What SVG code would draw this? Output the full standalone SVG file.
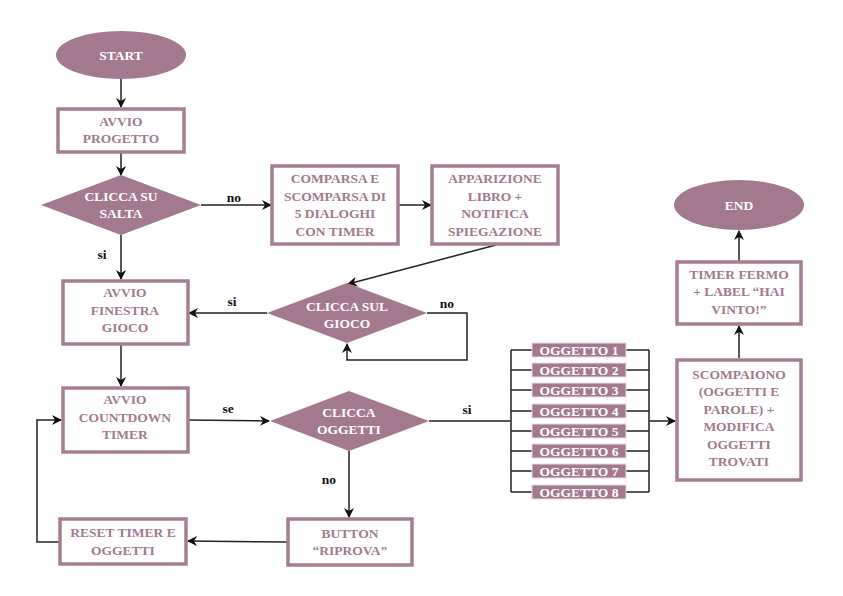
<svg xmlns="http://www.w3.org/2000/svg" width="843" height="596" viewBox="0 0 843 596">
<style>
.bg{fill:#fff}
.box{fill:#fff;stroke:#a67d93;stroke-width:3.5}
.sh{fill:#a3798e}
text{font-family:'Liberation Serif','Times New Roman','DejaVu Serif',serif;font-weight:bold;font-size:13.5px;text-anchor:middle}
.t{fill:#a3798e}
.w{fill:#fff}
.lbl{fill:#111}
.e{fill:none;stroke:#222;stroke-width:1.5}
.a{marker-end:url(#arr)}
.obj{fill:#a3798e;stroke:#e8dde3;stroke-width:1}
</style>
<defs>
<marker id="arr" viewBox="0 0 10 10" refX="9" refY="5" markerWidth="10" markerHeight="10" markerUnits="userSpaceOnUse" orient="auto">
<path d="M0,0 L10,5 L0,10 L3,5 Z" fill="#111"/>
</marker>
</defs>
<rect class="bg" width="843" height="596"/>
<g id="connectors">
<path class="e a" d="M121,79 L121,107"/>
<path class="e a" d="M121,152 L121,175"/>
<path class="e a" d="M201,205 L271,205"/>
<path class="e a" d="M398,205 L431,205"/>
<path class="e a" d="M496,245 L348,284"/>
<path class="e a" d="M427,313 L467,313 L467,360 L347,360 L347,344"/>
<path class="e a" d="M267,313 L189,313"/>
<path class="e a" d="M121,235 L121,279"/>
<path class="e a" d="M121,344 L121,386"/>
<path class="e a" d="M188,420 L269,421"/>
<path class="e a" d="M349,451 L349,517"/>
<path class="e a" d="M287,542 L188,541"/>
<path class="e a" d="M59,542 L37,542 L37,420 L61,420"/>
<path class="e" d="M429,421 L511,421"/>
<path class="e" d="M511,350 L511,492 M649,350 L649,492"/>
<path class="e" d="M511,350 L532,350 M626,350 L649,350 M511,370 L532,370 M626,370 L649,370 M511,390 L532,390 M626,390 L649,390 M511,411 L532,411 M626,411 L649,411 M511,431 L532,431 M626,431 L649,431 M511,451 L532,451 M626,451 L649,451 M511,471 L532,471 M626,471 L649,471 M511,492 L532,492 M626,492 L649,492"/>
<path class="e a" d="M649,421 L675,421"/>
<path class="e a" d="M739,358 L739,326"/>
<path class="e a" d="M739,261 L739,231"/>
<text class="lbl" x="234" y="202">no</text>
<text class="lbl" x="102" y="259">si</text>
<text class="lbl" x="232" y="306">si</text>
<text class="lbl" x="447" y="308">no</text>
<text class="lbl" x="228" y="413">se</text>
<text class="lbl" x="329" y="484">no</text>
<text class="lbl" x="467" y="414">si</text>
</g>
<g id="start">
<ellipse class="sh" cx="121" cy="55" rx="65" ry="24"/>
<text class="w" x="121" y="60">START</text>
</g>
<g id="avvio-progetto">
<rect class="box" x="58" y="109" width="126" height="43"/>
<text class="t" x="121" y="125.5">AVVIO<tspan x="121" dy="17.5">PROGETTO</tspan></text>
</g>
<g id="clicca-su-salta">
<polygon class="sh" points="121,175 201,205 121,235 41,205"/>
<text class="w" x="121" y="200.5">CLICCA SU<tspan x="121" dy="17.5">SALTA</tspan></text>
</g>
<g id="comparsa">
<rect class="box" x="272" y="166" width="126" height="78"/>
<text class="t" x="335" y="183">COMPARSA E<tspan x="335" dy="17.5">SCOMPARSA DI</tspan><tspan x="335" dy="17.5">5 DIALOGHI</tspan><tspan x="335" dy="17.5">CON TIMER</tspan></text>
</g>
<g id="apparizione">
<rect class="box" x="432" y="166" width="126" height="78"/>
<text class="t" x="495" y="183">APPARIZIONE<tspan x="495" dy="17.5">LIBRO +</tspan><tspan x="495" dy="17.5">NOTIFICA</tspan><tspan x="495" dy="17.5">SPIEGAZIONE</tspan></text>
</g>
<g id="clicca-sul-gioco">
<polygon class="sh" points="347,283 427,313 347,343 267,313"/>
<text class="w" x="347" y="310.5">CLICCA SUL<tspan x="347" dy="17.5">GIOCO</tspan></text>
</g>
<g id="avvio-finestra">
<rect class="box" x="63" y="281" width="125" height="63"/>
<text class="t" x="125" y="297">AVVIO<tspan x="125" dy="17.5">FINESTRA</tspan><tspan x="125" dy="17.5">GIOCO</tspan></text>
</g>
<g id="avvio-countdown">
<rect class="box" x="63" y="388" width="125" height="64"/>
<text class="t" x="125" y="404">AVVIO<tspan x="125" dy="17.5">COUNTDOWN</tspan><tspan x="125" dy="17.5">TIMER</tspan></text>
</g>
<g id="clicca-oggetti">
<polygon class="sh" points="349,391 429,421 349,451 270,421"/>
<text class="w" x="349" y="416.5">CLICCA<tspan x="349" dy="17.5">OGGETTI</tspan></text>
</g>
<g id="button-riprova">
<rect class="box" x="288" y="519" width="124" height="46"/>
<text class="t" x="350" y="537.5">BUTTON<tspan x="350" dy="17.5">“RIPROVA”</tspan></text>
</g>
<g id="reset-timer">
<rect class="box" x="60" y="519" width="126" height="45"/>
<text class="t" x="123" y="537">RESET TIMER E<tspan x="123" dy="17.5">OGGETTI</tspan></text>
</g>
<g id="oggetti">
<rect class="obj" x="532" y="343" width="94" height="14"/><text class="w" x="579" y="354.5">OGGETTO 1</text>
<rect class="obj" x="532" y="363" width="94" height="14"/><text class="w" x="579" y="374.5">OGGETTO 2</text>
<rect class="obj" x="532" y="383" width="94" height="14"/><text class="w" x="579" y="394.5">OGGETTO 3</text>
<rect class="obj" x="532" y="404" width="94" height="14"/><text class="w" x="579" y="415.5">OGGETTO 4</text>
<rect class="obj" x="532" y="424" width="94" height="14"/><text class="w" x="579" y="435.5">OGGETTO 5</text>
<rect class="obj" x="532" y="444" width="94" height="14"/><text class="w" x="579" y="455.5">OGGETTO 6</text>
<rect class="obj" x="532" y="464" width="94" height="14"/><text class="w" x="579" y="475.5">OGGETTO 7</text>
<rect class="obj" x="532" y="485" width="94" height="14"/><text class="w" x="579" y="496.5">OGGETTO 8</text>
</g>
<g id="scompaiono">
<rect class="box" x="677" y="360" width="124" height="120"/>
<text class="t" x="739" y="378.5">SCOMPAIONO<tspan x="739" dy="17.5">(OGGETTI E</tspan><tspan x="739" dy="17.5">PAROLE) +</tspan><tspan x="739" dy="17.5">MODIFICA</tspan><tspan x="739" dy="17.5">OGGETTI</tspan><tspan x="739" dy="17.5">TROVATI</tspan></text>
</g>
<g id="timer-fermo">
<rect class="box" x="677" y="262" width="124" height="62"/>
<text class="t" x="739" y="278.5">TIMER FERMO<tspan x="739" dy="17.5">+ LABEL “HAI</tspan><tspan x="739" dy="17.5">VINTO!”</tspan></text>
</g>
<g id="end">
<ellipse class="sh" cx="739" cy="205" rx="65" ry="25"/>
<text class="w" x="739" y="210">END</text>
</g>
</svg>
